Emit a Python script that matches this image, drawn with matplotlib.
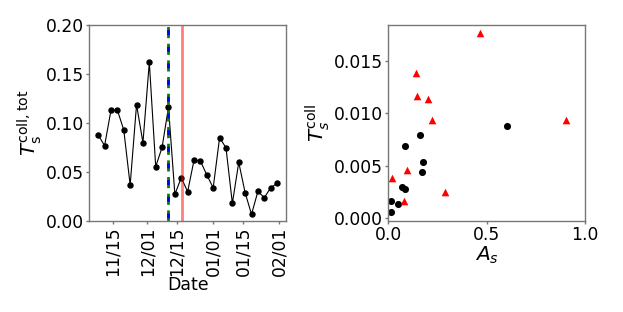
import matplotlib

matplotlib.use('Agg')

import matplotlib.dates as mdates
import matplotlib.pyplot as plt
import numpy as np
import pandas as pd


# left panel: time series, one value every 3 days
START_DATE = '2019-11-08'
STEP_DAYS = 3
T_COLL_TOT = [
    0.0876, 0.0767, 0.1130, 0.1130, 0.0927, 0.0365, 0.1186, 0.0797,
    0.1618, 0.0552, 0.0750, 0.1160, 0.0269, 0.0440, 0.0296, 0.0620,
    0.0610, 0.0467, 0.0337, 0.0848, 0.0746, 0.0177, 0.0596, 0.0286,
    0.0065, 0.0300, 0.0235, 0.0337, 0.0382,
]
EVENT_DATE = '2019-12-11'
RED_DATE = '2019-12-17 12:00'

# right panel: scatter of A_s vs T_s^coll
CIRCLE_A = [0.014, 0.014, 0.051, 0.071, 0.085, 0.086, 0.161, 0.178, 0.173, 0.605]
CIRCLE_T = [0.00055, 0.00161, 0.00135, 0.00290, 0.00274, 0.00683, 0.00789,
            0.00531, 0.00441, 0.00879]
TRIANGLE_A = [0.017, 0.080, 0.097, 0.139, 0.146, 0.200, 0.221, 0.288, 0.466, 0.903]
TRIANGLE_T = [0.00377, 0.00161, 0.00454, 0.01388, 0.01166, 0.01140, 0.00937,
              0.00245, 0.01772, 0.00937]

TICK_SIZE = 12.3
LABEL_SIZE = 12.5
SPINE_COLOR = '#777777'


def style_axes(ax):
    for spine in ax.spines.values():
        spine.set_color(SPINE_COLOR)
        spine.set_linewidth(1.0)
    ax.tick_params(labelsize=TICK_SIZE, color=SPINE_COLOR, length=2.5,
                   width=1.0, pad=1.5)


def plot_timeseries(ax):
    dates = pd.date_range(START_DATE, periods=len(T_COLL_TOT), freq=f'{STEP_DAYS}D')
    ax.plot(dates, T_COLL_TOT, color='black', linewidth=0.8,
            marker='o', markersize=3.6)
    event = pd.Timestamp(EVENT_DATE)
    ax.axvline(event, color='green', linewidth=2, linestyle=(0, (4, 2)))
    ax.axvline(event, color='blue', linewidth=2, linestyle=(4.9, (1.8, 4.2)))
    ax.axvline(pd.Timestamp(RED_DATE), color='red', alpha=0.5, linewidth=2)

    ax.set_ylim(0, 0.2)
    ax.set_yticks(np.arange(0, 0.201, 0.05))
    ax.yaxis.set_major_formatter(plt.FormatStrFormatter('%.2f'))
    ax.xaxis.set_major_locator(mdates.DayLocator(bymonthday=[1, 15]))
    ax.xaxis.set_major_formatter(mdates.DateFormatter('%m/%d'))
    for label in ax.get_xticklabels():
        label.set_rotation(90)
    ax.set_xlabel('Date', fontsize=LABEL_SIZE, labelpad=0)
    ax.set_ylabel(r'$T_{\rm s}^{\rm coll, tot}$', fontsize=LABEL_SIZE + 2, labelpad=1)
    style_axes(ax)


def plot_scatter(ax):
    ax.scatter(CIRCLE_A, CIRCLE_T, color='black', marker='o', s=26, linewidths=0)
    ax.scatter(TRIANGLE_A, TRIANGLE_T, color='red', marker='^', s=30, linewidths=0)
    ax.set_xlim(0, 1)
    ax.set_ylim(-0.0003, 0.0185)
    ax.set_xticks([0.0, 0.5, 1.0])
    ax.set_yticks([0.0, 0.005, 0.010, 0.015])
    ax.yaxis.set_major_formatter(plt.FormatStrFormatter('%.3f'))
    ax.set_xlabel(r'$A_s$', fontsize=LABEL_SIZE + 2, labelpad=0)
    ax.set_ylabel(r'$T_s^{\rm coll}$', fontsize=LABEL_SIZE + 2, labelpad=1)
    style_axes(ax)


def main():
    fig = plt.figure(figsize=(6.23, 3.12), dpi=100)
    ax_left = fig.add_axes([0.1433, 0.2926, 0.3158, 0.6273])
    ax_right = fig.add_axes([0.6233, 0.2926, 0.3157, 0.6273])
    plot_timeseries(ax_left)
    plot_scatter(ax_right)
    fig.savefig('out.png', dpi=100)
    plt.close(fig)


if __name__ == '__main__':
    main()
